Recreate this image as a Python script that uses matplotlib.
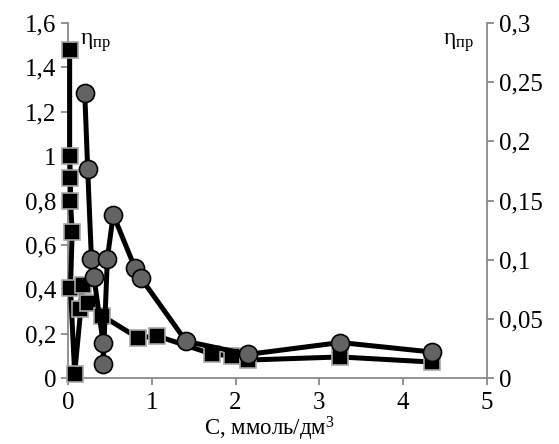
import matplotlib
matplotlib.use('Agg')
from matplotlib import pyplot as plt
from matplotlib.ticker import FuncFormatter

plt.rcParams['font.family'] = ['Liberation Serif', 'DejaVu Serif']
plt.rcParams['mathtext.fontset'] = 'custom'
plt.rcParams['mathtext.rm'] = 'Liberation Serif'
plt.rcParams['mathtext.it'] = 'Liberation Serif:italic'

# squares, left axis
c_sq = [0.02, 0.02, 0.03, 0.03, 0.05, 0.03, 0.08, 0.18, 0.14, 0.24, 0.41,
        0.84, 1.06, 1.72, 1.96, 2.15, 3.25, 4.34]
eta_sq = [1.48, 1.0, 0.9, 0.8, 0.66, 0.405, 0.02, 0.42, 0.31, 0.34, 0.28,
          0.18, 0.19, 0.108, 0.10, 0.081, 0.095, 0.072]

# circles, right axis
c_ci = [0.2, 0.235, 0.28, 0.31, 0.42, 0.42, 0.47, 0.54, 0.80, 0.87, 1.41,
        2.15, 3.25, 4.34]
eta_ci = [0.241, 0.177, 0.1005, 0.085, 0.0296, 0.0118, 0.101, 0.138, 0.093,
          0.0845, 0.031, 0.020, 0.030, 0.022]

grey = '#898989'

def comma(v, pos):
    s = ('%.2f' % v).rstrip('0').rstrip('.')
    return s.replace('.', ',')

fig = plt.figure(figsize=(5.59, 4.44), dpi=100)
ax = fig.add_axes([0.1216, 0.1486, 0.7496, 0.7995])
ax2 = ax.twinx()

ax.plot(c_sq, eta_sq, color='black', lw=3.6, marker='s', ms=11.5,
        mfc='black', mec='#a6a6a6', mew=1.2, zorder=3, clip_on=False)
ax2.plot(c_ci, eta_ci, color='black', lw=3.6, marker='o', ms=13,
         mfc='#636363', mec='black', mew=1.2, zorder=3, clip_on=False)

ax.set_xlim(0, 5)
ax.set_ylim(0, 1.6)
ax2.set_ylim(0, 0.3)
ax.set_xticks([0, 1, 2, 3, 4, 5])
ax.set_yticks([0, 0.2, 0.4, 0.6, 0.8, 1.0, 1.2, 1.4, 1.6])
ax2.set_yticks([0, 0.05, 0.1, 0.15, 0.2, 0.25, 0.3])
ax.yaxis.set_major_formatter(FuncFormatter(comma))
ax2.yaxis.set_major_formatter(FuncFormatter(comma))

for a in (ax, ax2):
    a.spines['top'].set_visible(False)
    for s in ('left', 'right', 'bottom'):
        a.spines[s].set_color(grey)
        a.spines[s].set_linewidth(1.3)
    a.tick_params(colors=grey, labelcolor='black', labelsize=18,
                  length=5, width=1.3, direction='out')
ax.tick_params(axis='x', pad=5)
ax.spines['right'].set_visible(False)
ax2.spines['left'].set_visible(False)
ax2.spines['bottom'].set_visible(False)

fig.text(0.482, 0.019, 'С, ммоль/дм$^{\\mathregular{3}}$', fontsize=16.5,
         ha='center', va='baseline')

fig.text(0.143, 0.899, 'η$_{\\mathregular{пр}}$', fontsize=17, va='baseline')
fig.text(0.792, 0.899, 'η$_{\\mathregular{пр}}$', fontsize=17, va='baseline')

fig.savefig('out.png', dpi=100)
